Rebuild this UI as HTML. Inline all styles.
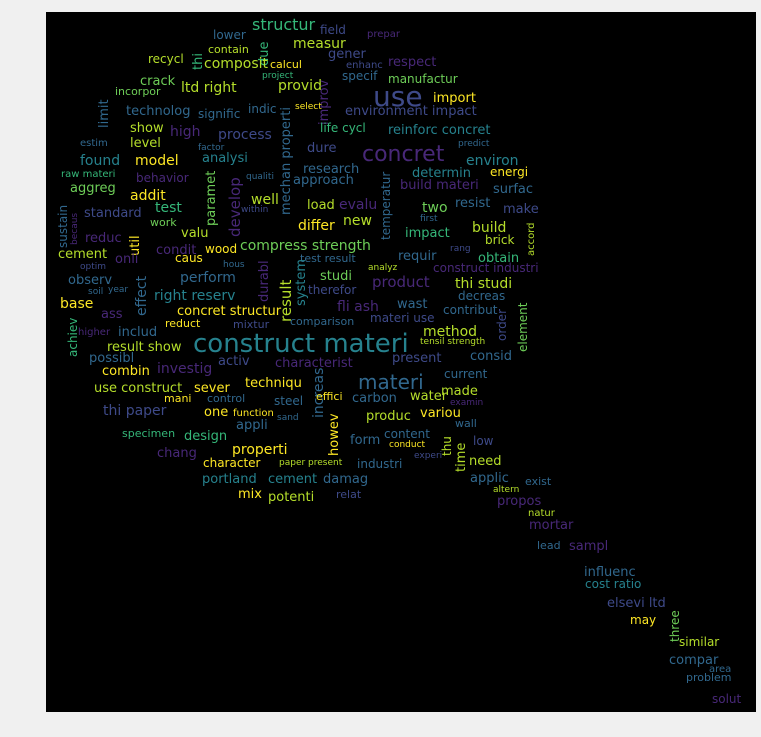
<!DOCTYPE html>
<html><head><meta charset="utf-8"><style>
html,body{margin:0;padding:0;background:#f0f0f0;width:761px;height:737px;overflow:hidden}
svg{display:block}
text{font-family:"DejaVu Sans","Liberation Sans",sans-serif}
</style></head><body>
<svg id="cloud" width="761" height="737" xmlns="http://www.w3.org/2000/svg">
<rect x="46" y="12" width="710" height="700" fill="#000"/>
</svg>
<script>
const C=["#440154","#482878","#3e4a89","#31688e","#26828e","#1f9e89","#35b779","#6ece58","#b5de2b","#fde725"];
// word, x, y, size, colorIndex, vertical(1)
const words=[
["construct materi",193,352,26,4,0],["use",373,106,28,2,0],["concret",362,161,22,1,0],["materi",358,389,20,3,0],
["structur",252,30,16,6,0],["field",320,34,12,2,0],["prepar",367,37,10,1,0],["lower",213,39,12,3,0],["due",268,66,13,6,1],
["measur",293,48,14,8,0],["gener",328,58,13,2,0],["contain",208,53,11,8,0],["enhanc",346,68,10,2,0],["respect",388,66,13,1,0],
["recycl",148,63,12,8,0],["thi",202,70,13,6,1],["composit",204,68,14,8,0],["calcul",270,68,11,9,0],["project",262,78,9,6,0],
["specif",342,80,12,3,0],["manufactur",388,83,12,7,0],["crack",140,85,13,7,0],["incorpor",115,95,11,7,0],["ltd right",181,92,14,8,0],
["provid",278,90,14,8,0],["improv",328,125,13,1,1],["import",433,102,13,9,0],["limit",108,128,13,3,1],["technolog",126,115,13,3,0],
["signific",198,118,12,3,0],["indic",248,113,12,3,0],["select",295,109,9,9,0],["environment impact",345,115,13,2,0],["show",130,132,13,8,0],
["high",170,136,14,1,0],["life cycl",320,132,12,6,0],["reinforc concret",388,134,13,4,0],["process",218,139,14,2,0],["level",130,147,13,8,0],
["estim",80,146,10,3,0],["mechan properti",290,215,13,3,1],["factor",198,150,9,3,0],["dure",307,152,13,2,0],["predict",458,146,9,3,0],
["found",80,165,14,4,0],["model",135,165,14,9,0],["analysi",202,162,13,4,0],["environ",466,165,14,4,0],["research",303,173,13,3,0],
["raw materi",61,177,10,6,0],["behavior",136,182,12,1,0],["qualiti",246,179,9,3,0],["approach",293,184,13,3,0],["determin",412,177,13,4,0],
["energi",490,176,12,9,0],["develop",240,237,15,1,1],["aggreg",70,192,13,7,0],["build materi",400,189,13,1,0],["surfac",493,193,13,3,0],
["addit",130,200,14,9,0],["paramet",215,226,13,7,1],["test",155,212,14,6,0],["within",241,212,9,2,0],["well",251,204,14,8,0],
["load",307,209,13,8,0],["evalu",339,209,14,1,0],["resist",455,207,13,3,0],["make",503,213,13,2,0],["temperatur",390,240,12,3,1],
["first",420,221,9,3,0],["two",422,212,14,7,0],["sustain",67,248,12,3,1],["becaus",77,245,9,1,1],["standard",84,217,13,2,0],
["work",150,226,11,7,0],["valu",181,237,13,8,0],["wood",205,253,12,9,0],["differ",298,230,14,9,0],["new",343,225,14,8,0],
["build",472,232,14,8,0],["impact",405,237,13,6,0],["accord",534,256,10,8,1],["rang",450,251,9,2,0],["brick",485,244,12,8,0],
["reduc",85,242,13,1,0],["util",139,256,13,9,1],["condit",156,254,13,1,0],["compress strength",240,250,14,7,0],["cement",58,258,13,8,0],
["onli",115,263,13,1,0],["caus",175,262,12,9,0],["requir",398,260,13,3,0],["test result",300,262,11,3,0],["obtain",478,262,13,6,0],
["optim",80,269,9,2,0],["hous",223,267,9,3,0],["analyz",368,270,9,8,0],["construct industri",433,272,12,1,0],["soil",88,294,9,3,0],
["year",108,292,9,3,0],["observ",68,284,13,3,0],["effect",146,316,14,3,1],["right reserv",154,300,14,4,0],["perform",180,282,14,3,0],
["durabl",268,302,13,1,1],["result",291,322,15,8,1],["system",305,306,13,4,1],["product",372,287,15,1,0],["therefor",308,294,12,2,0],
["studi",320,280,13,7,0],["thi studi",455,288,14,8,0],["decreas",458,300,12,3,0],["base",60,308,14,9,0],["fli ash",337,311,14,1,0],
["wast",397,308,13,3,0],["contribut",443,314,12,3,0],["concret structur",177,315,13,9,0],["ass",101,318,13,1,0],["reduct",165,327,11,9,0],
["mixtur",233,328,11,2,0],["comparison",290,325,11,3,0],["materi use",370,322,12,2,0],["order",506,341,12,2,1],["element",527,352,12,7,1],
["achiev",77,357,12,6,1],["higher",78,335,10,1,0],["includ",118,336,13,3,0],["method",423,336,14,8,0],["tensil strength",420,344,9,8,0],
["result show",107,351,13,8,0],["activ",218,365,13,2,0],["characterist",275,367,13,1,0],["present",392,362,13,2,0],["consid",470,360,13,3,0],
["possibl",89,362,13,3,0],["investig",157,373,14,1,0],["combin",102,375,13,9,0],["current",444,378,12,3,0],["increas",323,418,14,3,1],
["use construct",94,392,13,8,0],["sever",194,392,13,9,0],["techniqu",245,387,13,9,0],["made",441,395,13,8,0],["mani",164,402,11,9,0],
["control",207,402,11,3,0],["effici",316,400,11,9,0],["carbon",352,402,13,3,0],["water",410,400,13,8,0],["examin",450,405,9,1,0],
["thi paper",103,415,14,2,0],["one",204,416,13,9,0],["function",233,416,10,9,0],["steel",274,405,12,3,0],["sand",277,420,9,3,0],
["produc",366,420,13,8,0],["variou",420,417,13,9,0],["howev",338,456,13,9,1],["wall",455,427,11,3,0],["appli",236,429,13,3,0],
["specimen",122,437,11,6,0],["design",184,440,13,6,0],["form",350,444,13,3,0],["content",384,438,12,3,0],["low",473,445,12,2,0],
["thu",451,456,12,8,1],["conduct",389,447,9,9,0],["properti",232,454,14,9,0],["chang",157,457,13,1,0],["time",465,472,13,8,1],
["experi",414,458,9,2,0],["paper present",279,465,9,8,0],["character",203,467,12,9,0],["industri",357,468,12,3,0],["need",469,465,13,8,0],
["portland",202,483,13,4,0],["cement",268,483,13,4,0],["damag",323,483,13,3,0],["applic",470,482,13,3,0],["exist",525,485,11,3,0],
["altern",493,492,9,8,0],["mix",238,498,13,9,0],["potenti",268,501,13,8,0],["relat",336,498,11,2,0],["propos",497,505,13,1,0],
["natur",528,516,10,8,0],["mortar",529,529,13,1,0],["lead",537,549,11,3,0],["sampl",569,550,13,1,0],["influenc",584,576,13,3,0],
["cost ratio",585,588,12,4,0],["elsevi ltd",607,607,13,2,0],["may",630,624,12,9,0],["three",679,642,12,7,1],["similar",679,646,12,8,0],
["compar",669,664,13,3,0],["area",709,672,10,3,0],["problem",686,681,11,3,0],["solut",712,703,12,1,0]
];
const svg=document.getElementById('cloud');
const NS="http://www.w3.org/2000/svg";
words.forEach(w=>{
  const t=document.createElementNS(NS,'text');
  
  
  t.setAttribute('font-size',w[3]);
  t.setAttribute('fill',C[w[4]]);
  if(w[5]){t.setAttribute('transform','translate('+w[1]+','+w[2]+') rotate(-90)');}
  else{t.setAttribute('x',w[1]);t.setAttribute('y',w[2]);}
  t.textContent=w[0];
  svg.appendChild(t);
});
</script>
</body></html>
